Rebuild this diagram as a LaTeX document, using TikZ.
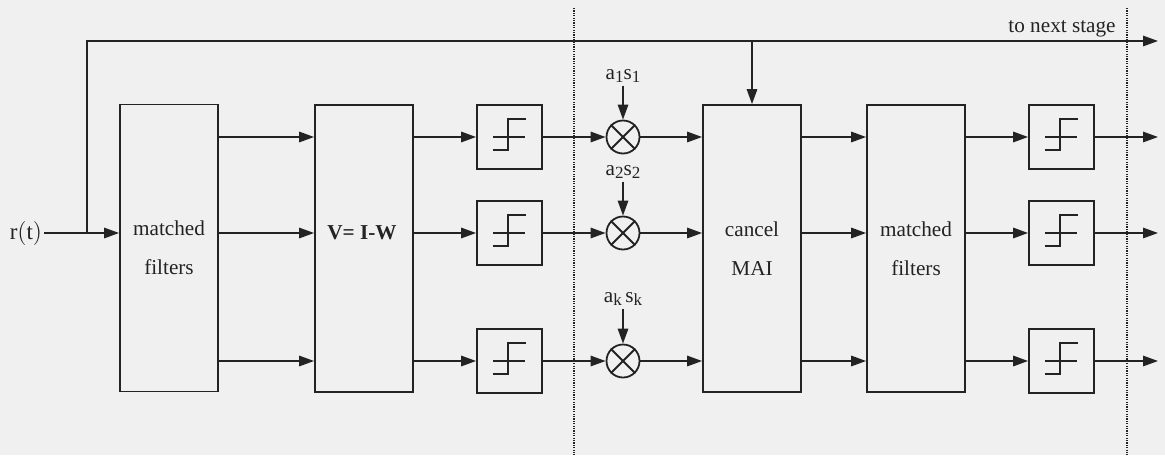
\documentclass[tikz,border=0pt]{standalone}
\usepackage{fontspec}
\setmainfont{Liberation Serif}
\usetikzlibrary{arrows.meta}
\definecolor{bg}{RGB}{240,240,240}
\definecolor{ink}{RGB}{35,35,35}
\newcommand{\sbs}[1]{\raisebox{-0.35ex}{\fontsize{8.5}{9}\selectfont #1}}
\begin{document}
\begin{tikzpicture}[x=0.5pt,y=-0.5pt,
  line width=0.9pt, draw=ink,
  arr/.style={-{Triangle[length=7.5pt,width=5.2pt]}},
  blk/.style={draw=ink, minimum width=49pt, minimum height=143.5pt, inner sep=0pt, align=center,
              font=\fontsize{10.6}{19.5}\selectfont, text=ink},
  thr/.style={draw=ink, minimum width=32.5pt, minimum height=32pt, inner sep=0pt},
  mul/.style={draw=ink, circle, minimum size=16.5pt, inner sep=0pt},
  lbl/.style={inner sep=1pt, text=ink, font=\fontsize{10.6}{12}\selectfont},
  sep/.style={draw=ink, line width=0.7pt, dash pattern=on 0.6pt off 0.6pt}]
\fill[bg] (0,0) rectangle (1165,455);
\useasboundingbox (0,0) rectangle (1165,455);

% blocks
\node[blk] (mf1) at (169,248) {matched\\filters};
\node[blk] (V) at (364,248.5) {};
\node[lbl] (vt) at (362,233) {\textbf{V= I-W}};
\node[blk] (cancel) at (752,248.5) {cancel\\MAI};
\node[blk] (mf2) at (916,248.5) {matched\\filters};

% threshold boxes
\node[thr] (t1) at (509.5,137) {};
\node[thr] (t2) at (509.5,233) {};
\node[thr] (t3) at (509.5,361) {};
\node[thr] (u1) at (1061.5,137) {};
\node[thr] (u2) at (1061.5,233) {};
\node[thr] (u3) at (1061.5,361) {};
\foreach \b in {t1,t2,t3,u1,u2,u3}{
  \begin{scope}[shift={(\b.center)}]
    \draw (-16.5,0) -- (15.5,0);
    \draw (-16.5,13) -- (-1.5,13) -- (-1.5,-18) -- (16.5,-18);
  \end{scope}
}

% multipliers
\node[mul] (m1) at (623,137) {};
\node[mul] (m2) at (623,233) {};
\node[mul] (m3) at (623,361) {};
\foreach \m in {m1,m2,m3}{
  \draw (\m.north west) -- (\m.south east);
  \draw (\m.north east) -- (\m.south west);
}

% multiplier inputs
\node[lbl] (s1) at (623,76) {a\sbs{1}s\sbs{1}};
\node[lbl] (s2) at (623,172) {a\sbs{2}s\sbs{2}};
\node[lbl] (s3) at (623,299) {a\sbs{k}\,s\sbs{k}};
\draw[arr] (s1.south) -- (m1.north);
\draw[arr] (s2.south) -- (m2.north);
\draw[arr] (s3.south) -- (m3.north);

% input and feed-forward
\node[lbl, anchor=east, inner sep=0.5pt, font=\fontsize{11.5}{12}\selectfont] (rt) at (44,233) {r$\big($t$\big)$};
\coordinate (J) at (87,233);
\coordinate (T) at (87,41);
\coordinate (E) at (1158,41);
\draw (rt.east) -- (J);
\draw[arr] (J) -- (mf1.west |- J);
\draw[arr] (J) -- (T) -- (E);
\draw[arr] (cancel.north |- T) -- (cancel.north);
\node[lbl] (ns) at (1062,29) {to next stage};

% outputs
\coordinate (o1) at (1158,137);
\coordinate (o2) at (1158,233);
\coordinate (o3) at (1158,361);

\foreach \t/\m/\u/\o in {t1/m1/u1/o1, t2/m2/u2/o2, t3/m3/u3/o3}{
  \draw[arr] (mf1.east |- \t) -- (V.west |- \t);
  \draw[arr] (V.east |- \t) -- (\t.west);
  \draw[arr] (\t.east) -- (\m.west);
  \draw[arr] (\m.east) -- (cancel.west |- \m);
  \draw[arr] (cancel.east |- \m) -- (mf2.west |- \m);
  \draw[arr] (mf2.east |- \u) -- (\u.west);
  \draw[arr] (\u.east) -- (\o);
}

% stage separators
\coordinate (d1a) at (574,8);
\coordinate (d1b) at (574,455);
\coordinate (d2a) at (1127,8);
\coordinate (d2b) at (1127,455);
\draw[sep] (d1a) -- (d1b);
\draw[sep] (d2a) -- (d2b);
\end{tikzpicture}
\end{document}
